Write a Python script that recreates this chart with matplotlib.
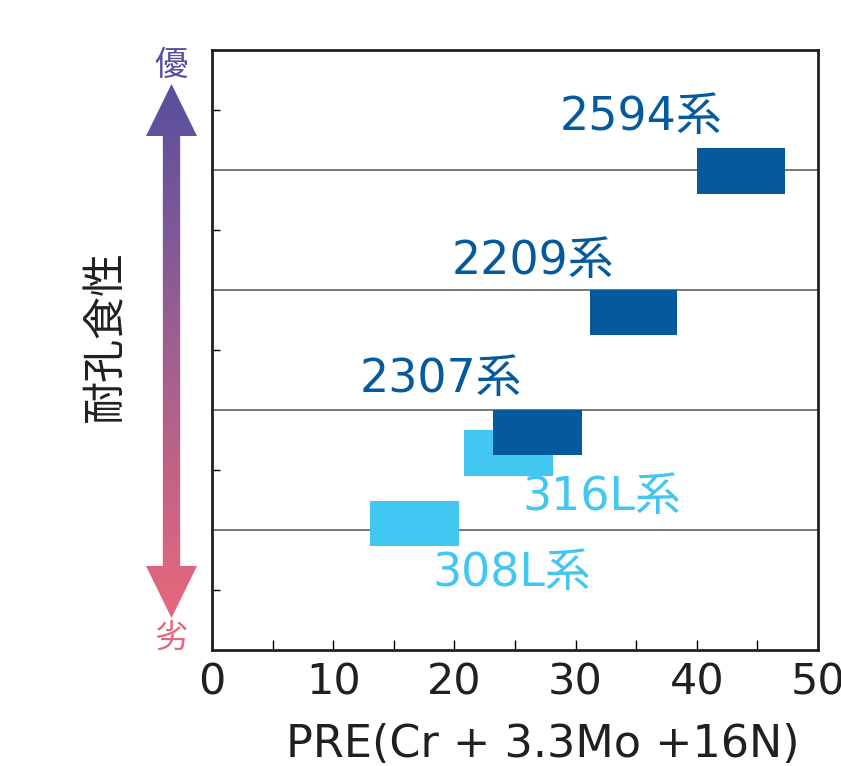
import matplotlib
matplotlib.use('Agg')
import matplotlib.pyplot as plt
import numpy as np
from matplotlib.patches import Polygon
from matplotlib.colors import LinearSegmentedColormap

plt.rcParams['font.family'] = ['DejaVu Sans', 'Noto Sans CJK JP']

# grades (bottom to top), PRE ranges and vertical placement
grades = ['308L系', '316L系', '2307系', '2209系', '2594系']
pre_min = [13.0, 20.8, 23.2, 31.2, 40.0]
pre_max = [20.4, 28.1, 30.5, 38.4, 47.3]
level_low = [1.73, 2.90, 3.25, 5.25, 7.60]
level_high = [2.49, 3.67, 4.00, 6.00, 8.37]
label_x = [18.2, 25.6, 12.2, 19.8, 28.7]
label_y = [1.28, 2.55, 4.50, 6.47, 8.87]

dark_blue = '#045a9c'
light_blue = '#42c6f2'
colors = [light_blue, light_blue, dark_blue, dark_blue, dark_blue]

x_ticks = [0, 10, 20, 30, 40, 50]
x_minor = [5, 15, 25, 35, 45]
grid_levels = [2, 4, 6, 8]
y_minor = [1, 3, 5, 7, 9]

W, H = 841, 766
fig = plt.figure(figsize=(W / 100, H / 100), dpi=100)
ax = fig.add_axes([212 / W, 1 - 650 / H, (818 - 212) / W, 600 / H])

ax.set_xlim(0, 50)
ax.set_ylim(0, 10)

for lv in grid_levels:
    ax.axhline(lv, color='#6d6d6d', lw=1.3, zorder=1)

widths = np.array(pre_max) - np.array(pre_min)
heights = np.array(level_high) - np.array(level_low)
ax.bar(pre_min, heights, width=widths, bottom=level_low, align='edge',
       color=colors, zorder=2)

for g, tx, ty, c in zip(grades, label_x, label_y, colors):
    ax.text(tx, ty, g, color=c, fontsize=33, ha='left', va='center', zorder=3)

ax.set_xticks(x_ticks)
ax.set_xticks(x_minor, minor=True)
ax.set_xticklabels([str(t) for t in x_ticks], fontsize=31, color='#231f20')
ax.set_yticks(y_minor)
ax.set_yticklabels([])
ax.tick_params(axis='x', which='both', direction='in', length=7, width=1, pad=8)
ax.tick_params(axis='y', which='both', direction='in', length=6, width=1)
for s in ax.spines.values():
    s.set_linewidth(2)
    s.set_color('#231f20')

ax.set_xlabel('PRE(Cr + 3.3Mo +16N)', fontsize=32, color='#231f20')
ax.xaxis.set_label_coords(0.545, -0.158)
ax.xaxis.label.set_va('center')

# gradient arrow on the left
ax_arrow = fig.add_axes([146 / W, 1 - 618 / H, 51 / W, 534 / H])
ax_arrow.set_xlim(0, 1)
ax_arrow.set_ylim(0, 1)
ax_arrow.axis('off')
cmap = LinearSegmentedColormap.from_list('arr', ['#e8687b', '#a0608f', '#574f9f'])
grad = np.linspace(0, 1, 256).reshape(-1, 1)
im = ax_arrow.imshow(grad, cmap=cmap, extent=[0, 1, 0, 1], origin='lower',
                     aspect='auto')
hl = 52 / 534
s0, s1 = 0.33, 0.67
arrow = Polygon([(0.5, 1), (0, 1 - hl), (s0, 1 - hl), (s0, hl), (0, hl),
                 (0.5, 0), (1, hl), (s1, hl), (s1, 1 - hl), (1, 1 - hl)],
                closed=True, transform=ax_arrow.transAxes, fc='none', ec='none')
ax_arrow.add_patch(arrow)
im.set_clip_path(arrow)

fig.text(171 / W, 1 - 65 / H, '優', fontsize=24, color='#574f9f',
         family='Noto Sans CJK JP', ha='center', va='center')
fig.text(171 / W, 1 - 638 / H, '劣', fontsize=24, color='#e8687b',
         family='Noto Sans CJK JP', ha='center', va='center')
fig.text(106 / W, 1 - 336 / H, '耐孔食性', fontsize=31, color='#231f20',
         family='Noto Sans CJK JP', rotation=90, ha='center', va='center')

fig.savefig('out.png', dpi=100)
